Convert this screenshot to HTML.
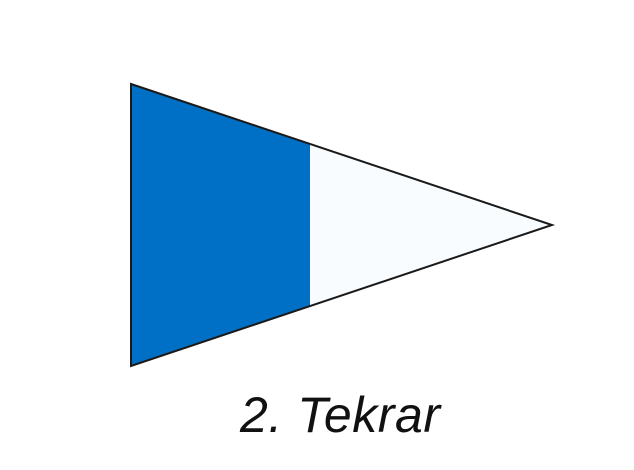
<!DOCTYPE html>
<html><head><style>
html,body{margin:0;padding:0;background:#fff;width:634px;height:470px;overflow:hidden}
</style></head><body>
<svg width="634" height="470" xmlns="http://www.w3.org/2000/svg">
<polygon points="131,84 552,225 131,366" fill="#f9fcff"/>
<polygon points="131,84 310,144 310,306 131,366" fill="#0070c6"/>
<polygon points="131,84 552,225 131,366" fill="none" stroke="#1a1a1a" stroke-width="2"/>
<text x="240" y="432" font-family="Liberation Sans, sans-serif" font-style="italic" font-size="50" fill="#111" textLength="200">2. Tekrar</text>
</svg>
</body></html>
